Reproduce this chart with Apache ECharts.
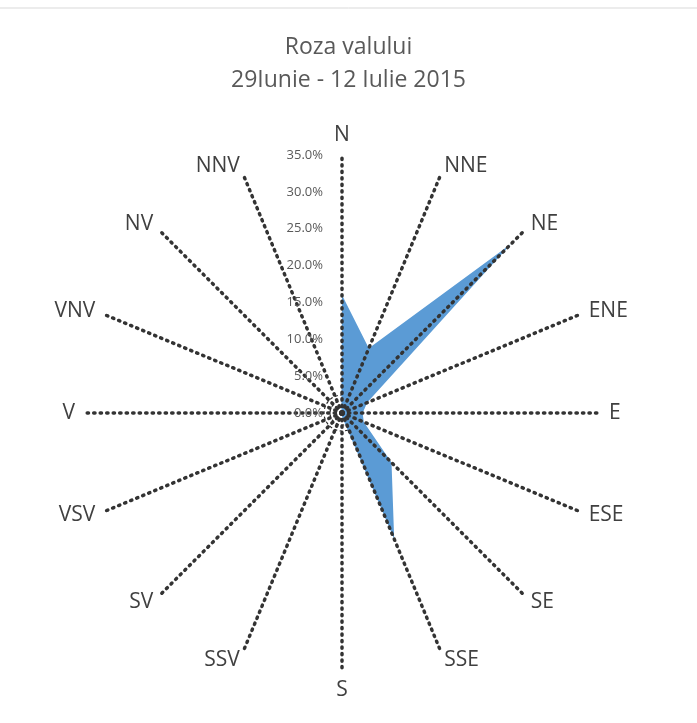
<!DOCTYPE html>
<html><head><meta charset="utf-8">
<script src="https://cdn.jsdelivr.net/npm/echarts@6/dist/echarts.min.js"></script>
<style>html,body{margin:0;padding:0;background:#fff}#c{width:697px;height:723px}</style>
</head><body><div id="c"></div>
<script>
// Directions, clockwise from North
const directions = ['N','NNE','NE','ENE','E','ESE','SE','SSE','S','SSV','SV','VSV','V','VNV','NV','NNV'];
// Percent frequency per direction
const frequency = [16.0, 9.5, 32.4, 3.7, 2.8, 3.2, 9.5, 18.5, 0.5, 0.2, 0.2, 0.2, 0.2, 0.2, 0.2, 0.2];
const axisMax = 35;
const axisStep = 5;
const titleLines = ['Roza valului', '29Iunie - 12 Iulie 2015'];

// ECharts radar places indicators counter-clockwise; reorder so they appear clockwise
const order = directions.map((d, i) => (directions.length - i) % directions.length);
const indicator = order.map((idx, k) => {
  const o = { name: directions[idx], min: 0, max: axisMax };
  if (k === 0) o.axisLabel = { show: true };
  return o;
});
const values = order.map(idx => frequency[idx]);

const chart = echarts.init(document.getElementById('c'));
chart.setOption({
  animation: false,
  graphic: [{ type: 'line', shape: { x1: 0, y1: 8, x2: 697, y2: 8 }, style: { stroke: '#d9d9d9', lineWidth: 1 } }],
  title: {
    text: titleLines.join('\n'),
    left: 'center', top: 26,
    textStyle: { fontFamily: 'Open Sans', fontWeight: 'normal', fontSize: 23, color: '#595959', lineHeight: 33 }
  },
  radar: {
    center: [342, 413],
    radius: 258,
    startAngle: 90,
    splitNumber: axisMax / axisStep,
    shape: 'circle',
    z: 5,
    indicator: indicator,
    axisName: { color: '#404040', fontSize: 21, fontFamily: 'Open Sans' },
    nameGap: 9,
    axisLine: { lineStyle: { color: '#333', width: 3.5, type: [1.3, 5.2] } },
    splitLine: { show: false },
    splitArea: { show: false },
    axisTick: { show: false },
    axisLabel: {
      show: false, color: '#595959', fontSize: 13, fontFamily: 'Open Sans', margin: 19,
      formatter: v => v.toFixed(1) + '%'
    }
  },
  polar: { center: [342, 413], radius: 18 },
  angleAxis: { show: false, min: 0, max: 360 },
  radiusAxis: {
    min: 0, max: 3, interval: 1,
    axisLine: { show: false }, axisTick: { show: false }, axisLabel: { show: false },
    splitLine: { show: true, lineStyle: { color: '#262626', width: 1.2, type: [3, 2.5] } }
  },
  series: [{
    type: 'radar',
    symbol: 'none',
    lineStyle: { width: 0, color: '#5B9BD5' },
    areaStyle: { color: '#5B9BD5', opacity: 1 },
    data: [{ value: values }]
  }]
});
</script></body></html>
